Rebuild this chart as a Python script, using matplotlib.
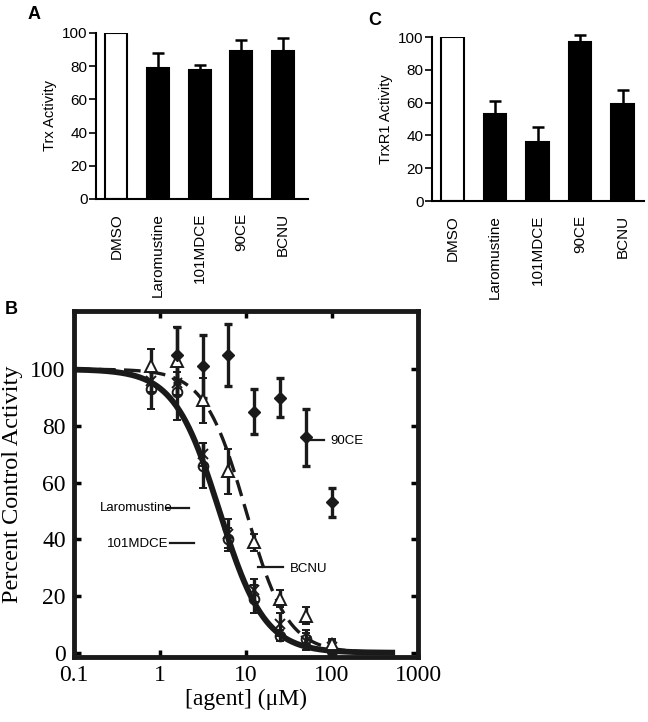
import numpy as np
import matplotlib
matplotlib.use("Agg")
import matplotlib.pyplot as plt

# ===== data =====
agents = ["DMSO", "Laromustine", "101MDCE", "90CE", "BCNU"]
trx_mean = [100, 79, 78, 89, 89]
trx_err = [0, 9, 3, 7, 8]
trxr1_mean = [100, 53, 36, 97, 59]
trxr1_err = [0, 8, 9, 4, 9]

conc = [0.78, 1.56, 3.125, 6.25, 12.5, 25, 50, 100]
laro_y = [93, 92, 66, 40, 19, 6, 5, 0.5]
laro_e = [7, 10, 8, 4, 5, 2, 3, 1]
mdce_y = [96, 95, 70, 42, 22, 10, 4, 2]
mdce_e = [4, 4, 4, 5, 4, 4, 3, 2]
bcnu_y = [101, 103, 89, 64, 39, 19, 13, 3]
bcnu_e = [6, 12, 8, 8, 3, 3, 3, 2]
ce90_x = [1.56, 3.125, 6.25, 12.5, 25, 50, 100]
ce90_y = [105, 101, 105, 85, 90, 76, 53]
ce90_e = [10, 11, 11, 8, 7, 10, 5]

# fitted dose-response parameters (IC50 uM, Hill slope)
laro_fit = (4.9, 1.65)
bcnu_fit = (10.0, 1.8)

sans = "Liberation Sans"
serif = "Liberation Serif"

fig = plt.figure(figsize=(6.48, 7.22), dpi=100)


def bar_panel(rect, means, errs, ylabel, letter, letter_xy, xlim):
    ax = fig.add_axes(rect)
    pos = np.arange(len(agents))
    colors = ["white"] + ["black"] * (len(agents) - 1)
    ax.bar(pos, means, width=0.53, color=colors, edgecolor="black", linewidth=1.5, zorder=2)
    for p, m, e in zip(pos[1:], means[1:], errs[1:]):
        ax.errorbar(p, m, yerr=[[0], [e]], fmt="none", ecolor="black",
                    elinewidth=1.8, capsize=4.5, capthick=1.8, clip_on=False, zorder=3)
    ax.set_xlim(*xlim)
    ax.set_ylim(0, 100)
    ax.set_yticks([0, 20, 40, 60, 80, 100])
    ax.set_yticklabels(["0", "20", "40", "60", "80", "100"], fontsize=11, family=sans)
    ax.set_xticks(pos)
    ax.set_xticklabels(agents, rotation=90, fontsize=11, family=sans, va="top")
    ax.tick_params(axis="x", length=0, pad=10)
    ax.tick_params(axis="y", length=5, width=1.2, pad=1)
    for s in ["top", "right"]:
        ax.spines[s].set_visible(False)
    ax.spines["left"].set_linewidth(1.5)
    ax.spines["bottom"].set_linewidth(1.5)
    ax.set_ylabel(ylabel, fontsize=10.5, family=sans, labelpad=4)
    fig.text(letter_xy[0], letter_xy[1], letter, fontsize=13, fontweight="bold", family=sans)
    return ax


bar_panel([0.148, 0.7244, 0.327, 0.2299], trx_mean, trx_err, "Trx Activity", "A",
          (0.042, 0.973), (-0.49, 4.6))
bar_panel([0.6667, 0.7216, 0.327, 0.2271], trxr1_mean, trxr1_err, "TrxR1 Activity", "C",
          (0.568, 0.966), (-0.48, 4.5))

# ===== panel B =====
ax = fig.add_axes([0.1142, 0.09, 0.531, 0.4792])
xs = np.logspace(-1, np.log10(500), 300)
ax.plot(xs, 100 / (1 + (xs / laro_fit[0]) ** laro_fit[1]), color="#1a1a1a", lw=4.2, zorder=2)
ax.plot(xs, 100 / (1 + (xs / bcnu_fit[0]) ** bcnu_fit[1]), color="#1a1a1a", lw=2.4,
        ls=(0, (5, 2.5)), zorder=2)

ekw = dict(ecolor="#1a1a1a", elinewidth=2.4, capsize=3, capthick=2.4, zorder=3)
ax.errorbar(conc, laro_y, yerr=laro_e, fmt="o", mfc="none", mec="#1a1a1a", ms=7, mew=1.4, **ekw)
ax.errorbar(conc, mdce_y, yerr=mdce_e, fmt="x", mec="#1a1a1a", ms=7, mew=1.4, **ekw)
ax.errorbar(conc, bcnu_y, yerr=bcnu_e, fmt="^", mfc="white", mec="#1a1a1a", ms=8, mew=1.4, **ekw)
ax.errorbar(ce90_x, ce90_y, yerr=ce90_e, fmt="D", mfc="#1a1a1a", mec="#1a1a1a", ms=6, **ekw)

ax.set_xscale("log")
ax.set_xlim(0.1, 1000)
ax.set_ylim(-1.5, 120.5)
ax.set_xticks([0.1, 1, 10, 100, 1000])
ax.set_xticklabels(["0.1", "1", "10", "100", "1000"], fontsize=17, family=serif)
ax.xaxis.set_minor_locator(matplotlib.ticker.NullLocator())
ax.set_yticks([0, 20, 40, 60, 80, 100])
ax.set_yticklabels(["0", "20", "40", "60", "80", "100"], fontsize=17, family=serif)
ax.tick_params(which="both", direction="in", top=True, right=True, length=5, width=2.5, pad=6)
for s in ax.spines.values():
    s.set_linewidth(3.5)
    s.set_color("#1a1a1a")
ax.set_xlabel("[agent] (\u03bcM)", fontsize=17, family=serif, labelpad=2)
ax.set_ylabel("Percent Control Activity", fontsize=17.5, family=serif, labelpad=5)

# series labels with leader lines
lkw = dict(color="#1a1a1a", lw=1.6)
ax.text(0.2, 51, "Laromustine", fontsize=9.5, family=sans, va="center")
ax.plot([1.17, 2.17], [51, 51], **lkw)
ax.text(0.24, 38.5, "101MDCE", fontsize=9.5, family=sans, va="center")
ax.plot([1.3, 2.5], [38.8, 38.8], **lkw)
ax.plot([13.8, 27], [30.2, 30.2], **lkw)
ax.text(32, 29.5, "BCNU", fontsize=9.5, family=sans, va="center")
ax.plot([52, 81], [75.2, 75.2], **lkw)
ax.text(95, 74.5, "90CE", fontsize=9.5, family=sans, va="center")

fig.text(0.008, 0.565, "B", fontsize=13, fontweight="bold", family=sans)

fig.savefig("out.png", dpi=100)
